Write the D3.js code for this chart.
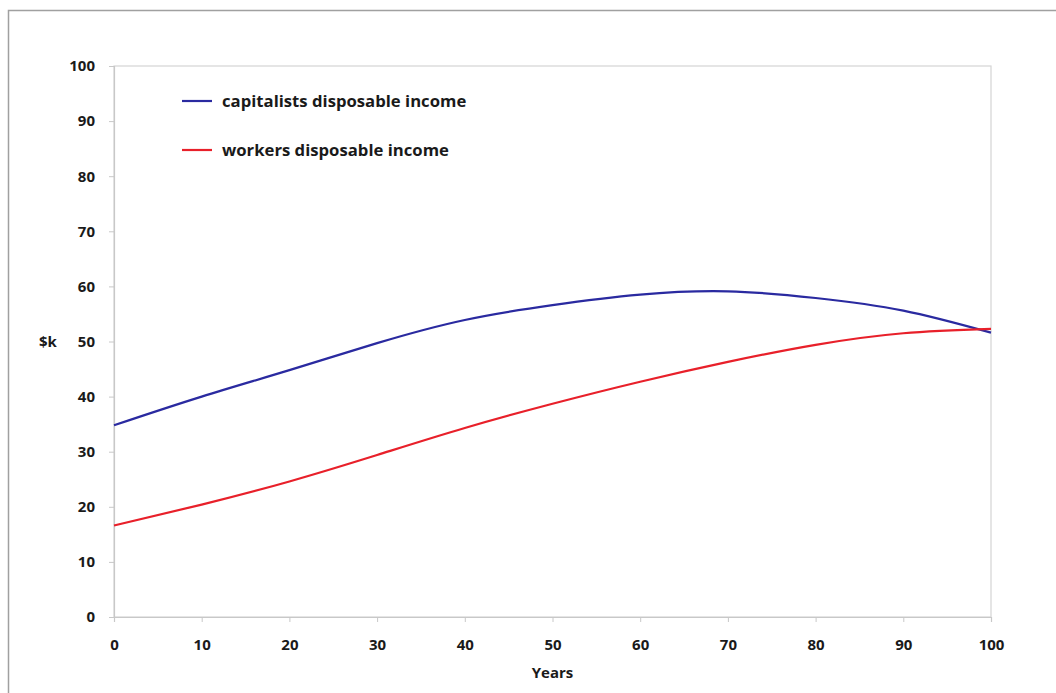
<!DOCTYPE html>
<html><head><meta charset="utf-8">
<script src="https://cdn.jsdelivr.net/npm/d3@7"></script>
<style>html,body{margin:0;padding:0;background:#fff;} svg{display:block;}</style>
</head><body>
<svg id="c" width="1056" height="693"></svg>
<script>
const years = [0, 10, 20, 30, 40, 50, 60, 70, 80, 90, 100];
const capitalists = [34.8, 40.0, 44.8, 49.7, 53.9, 56.6, 58.5, 59.1, 57.9, 55.6, 51.6];
const workers = [16.6, 20.4, 24.6, 29.4, 34.3, 38.7, 42.7, 46.3, 49.4, 51.5, 52.3];
const seriesNames = ["capitalists disposable income", "workers disposable income"];
const seriesColors = ["#2a2aa0", "#e8202a"];
const xTicks = [0, 10, 20, 30, 40, 50, 60, 70, 80, 90, 100];
const yTicks = [0, 10, 20, 30, 40, 50, 60, 70, 80, 90, 100];

const svg = d3.select("#c");
const font = "'Open Sans', Lato, sans-serif";
// outer frame
svg.append("rect").attr("x", 8.5).attr("y", 10.5).attr("width", 1100).attr("height", 800)
  .attr("fill", "none").attr("stroke", "#a0a0a0").attr("stroke-width", 1.5);

const L = 114, R = 991, T = 66, B = 617;
const x = d3.scaleLinear().domain([0, 100]).range([L, R]);
const y = d3.scaleLinear().domain([0, 100]).range([B, T]);

// plot border
svg.append("rect").attr("x", L).attr("y", T).attr("width", R - L).attr("height", B - T)
  .attr("fill", "none").attr("stroke", "#d4d4d4").attr("stroke-width", 1.2);

const xAxis = svg.append("g").attr("transform", `translate(0,${B})`)
  .call(d3.axisBottom(x).tickValues(xTicks).tickSize(5).tickPadding(17).tickFormat(d3.format("d")));
const yAxis = svg.append("g").attr("transform", `translate(${L},0)`)
  .call(d3.axisLeft(y).tickValues(yTicks).tickSize(5).tickPadding(14).tickFormat(d3.format("d")));
[xAxis, yAxis].forEach(a => {
  a.select(".domain").attr("stroke", "#c8c8c8").attr("stroke-width", 1.2);
  a.selectAll(".tick line").attr("stroke", "#c8c8c8");
  a.selectAll(".tick text").attr("fill", "#1a1a1a").style("font-family", font)
    .style("font-weight", "bold").style("font-size", "15px");
});

svg.append("text").attr("x", 48).attr("y", y(50)).attr("dy", "0.35em").attr("text-anchor", "middle")
  .style("font-family", font).style("font-weight", "bold").style("font-size", "15px").attr("fill", "#1a1a1a").text("$k");
svg.append("text").attr("x", x(50)).attr("y", 673).attr("dy", "0.35em").attr("text-anchor", "middle")
  .style("font-family", font).style("font-weight", "bold").style("font-size", "15px").attr("fill", "#1a1a1a").text("Years");

const line = d3.line().x((d, i) => x(years[i])).y(d => y(d)).curve(d3.curveNatural);
[capitalists, workers].forEach((s, k) => {
  svg.append("path").datum(s).attr("d", line).attr("fill", "none")
    .attr("stroke", seriesColors[k]).attr("stroke-width", 2.2);
});

// legend
seriesNames.forEach((n, k) => {
  const yy = 101 + k * 49;
  svg.append("line").attr("x1", 182).attr("x2", 212).attr("y1", yy).attr("y2", yy)
    .attr("stroke", seriesColors[k]).attr("stroke-width", 2.2);
  svg.append("text").attr("x", 222).attr("y", yy).attr("dy", "0.35em")
    .style("font-family", font).style("font-weight", "bold").style("font-size", "16.7px")
    .attr("fill", "#1a1a1a").text(n);
});
</script>
</body></html>
